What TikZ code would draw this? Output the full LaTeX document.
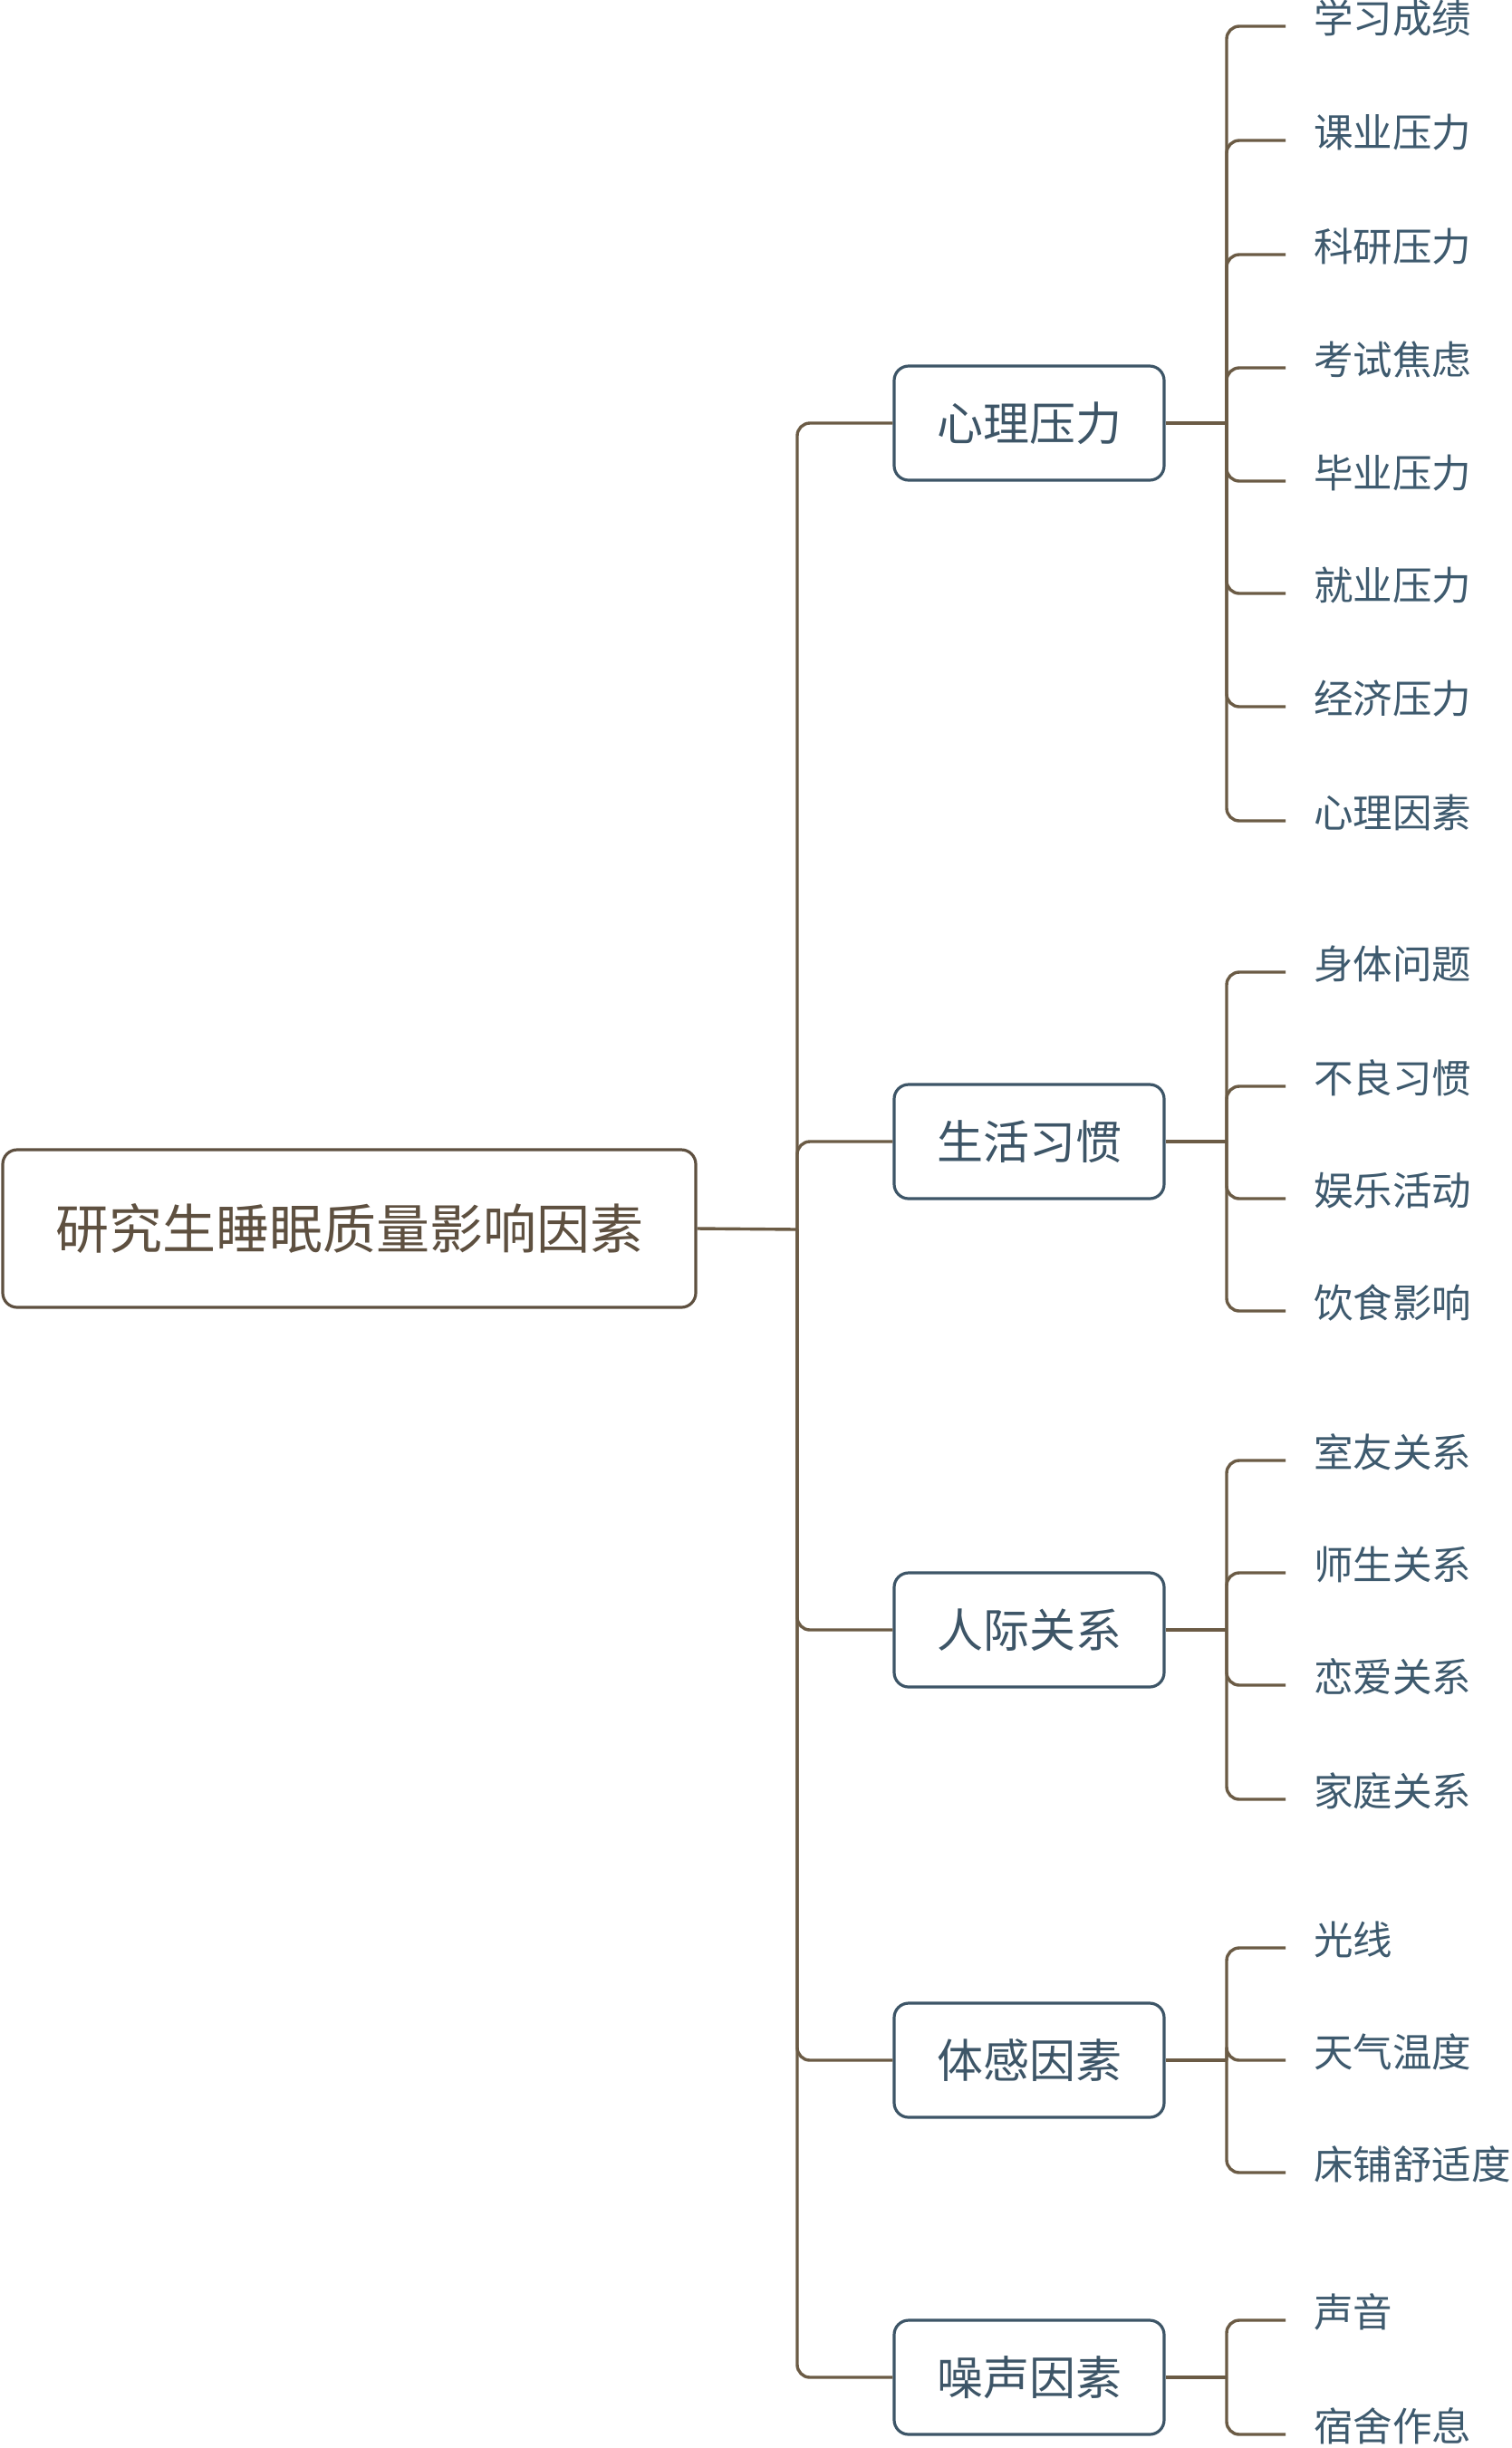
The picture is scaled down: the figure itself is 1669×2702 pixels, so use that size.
\documentclass[tikz,border=0pt]{standalone}
\usepackage{fontspec}
\newfontfamily\cjk{Noto Sans CJK SC}
\usetikzlibrary{calc}
\definecolor{connc}{HTML}{6B5B45}
\definecolor{rootc}{HTML}{5E5040}
\definecolor{topicc}{HTML}{3D5567}
\definecolor{leafc}{HTML}{3E5A6E}
\begin{document}
\begin{tikzpicture}[x=1pt,y=-1pt,line join=round]
\tikzset{
  conn/.style={draw=connc,line width=3.4pt,rounded corners=14pt},
  straightconn/.style={draw=connc,line width=3.4pt},
  rootbox/.style={draw=rootc,line width=3.2pt,rounded corners=16pt,fill=white,
    minimum width=765pt,minimum height=174pt,inner sep=0pt,text=rootc,
    font=\cjk\fontsize{59}{66}\selectfont},
  topicbox/.style={draw=topicc,line width=3.2pt,rounded corners=16pt,fill=white,
    minimum width=298pt,minimum height=126pt,inner sep=0pt,text=topicc,
    font=\cjk\fontsize{51}{56}\selectfont},
  leafnode/.style={anchor=west,inner sep=0pt,text=leafc,
    font=\cjk\fontsize{43.5}{48}\selectfont}
}
\fill[white] (0,0) rectangle (1669,2702);
\useasboundingbox (0,0) rectangle (1669,2702);

\node[rootbox] (root) at (385.5,1356) {研究生睡眠质量影响因素};
\coordinate (hub) at (880,1357);

\node[topicbox] (t1) at (1136,467) {心理压力};
\node[topicbox] (t2) at (1136,1260) {生活习惯};
\node[topicbox] (t3) at (1136,1799) {人际关系};
\node[topicbox] (t4) at (1136,2274) {体感因素};
\node[topicbox] (t5) at (1136,2624) {噪声因素};

\draw[straightconn] (root.east) -- (hub);
\foreach \t in {t1,t2,t3,t4,t5}{
  \draw[conn] (hub) |- (\t.west);
}

% leaves: name / line y / parent
\foreach \n/\y/\p/\txt in {
  a1/29/t1/学习成绩, a2/155/t1/课业压力, a3/281/t1/科研压力, a4/406/t1/考试焦虑,
  a5/531/t1/毕业压力, a6/655/t1/就业压力, a7/780/t1/经济压力, a8/906/t1/心理因素,
  b1/1073/t2/身体问题, b2/1199/t2/不良习惯, b3/1323/t2/娱乐活动, b4/1447/t2/饮食影响,
  c1/1612/t3/室友关系, c2/1736/t3/师生关系, c3/1860/t3/恋爱关系, c4/1986/t3/家庭关系,
  d1/2150/t4/光线, d2/2274/t4/天气温度, d3/2398/t4/床铺舒适度,
  e1/2561/t5/声音, e2/2687/t5/宿舍作息}{
  \node[leafnode] (\n) at (1450,\y-9) {\txt};
  \coordinate (\n end) at (1419,\y);
}

\foreach \p/\list in {t1/{a1,a2,a3,a4,a5,a6,a7,a8}, t2/{b1,b2,b3,b4}, t3/{c1,c2,c3,c4}, t4/{d1,d2,d3}, t5/{e1,e2}}{
  \coordinate (\p hub) at (1354,0);
  \draw[straightconn] (\p.east) -- (\p.east -| \p hub);
  \foreach \n in \list {
    \draw[conn] (\p.east -| \p hub) |- (\n end);
  }
}
\end{tikzpicture}
\end{document}
